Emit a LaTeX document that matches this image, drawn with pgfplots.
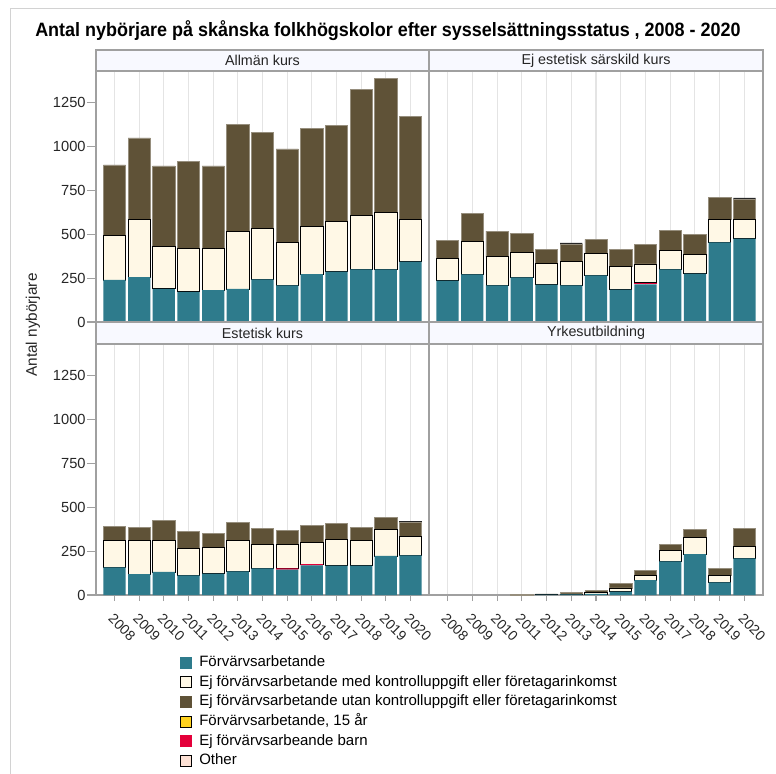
\documentclass[border=0pt]{standalone}
\usepackage{pgfplots}
\pgfplotsset{compat=1.18}
\usepackage{pgfplotstable}
\usepackage{fontspec}
\setmainfont{Liberation Sans}
\newfontfamily\titlefont[FakeStretch=0.93]{Liberation Sans}
\definecolor{tealc}{RGB}{46,123,140}
\definecolor{creamc}{RGB}{255,248,230}
\definecolor{darkc}{RGB}{95,82,55}
\definecolor{darkedge}{RGB}{150,142,125}
\definecolor{yellowc}{RGB}{255,210,31}
\definecolor{redc}{RGB}{228,0,58}
\definecolor{otherc}{RGB}{253,225,213}
\definecolor{axc}{RGB}{160,160,160}
\definecolor{stripc}{RGB}{248,249,255}
\definecolor{gridc}{RGB}{228,228,228}

% x  teal red cream dark other
\pgfplotstableread{
x t r c d o
0 239 0 255 400 0
1 256 0 329 462 0
2 189 0 241 458 0
3 172 0 248 493 0
4 182 0 237 469 0
5 188 0 325 610 0
6 242 0 290 548 0
7 208 0 243 534 0
8 273 0 269 558 0
9 286 0 288 545 0
10 299 0 309 716 0
11 299 0 322 763 0
12 343 0 242 585 0
}\allman
\pgfplotstableread{
x t r c d o
0 235 0 125 104 0
1 271 0 189 159 0
2 208 0 163 146 0
3 254 0 144 108 0
4 212 0 119 80 0
5 208 0 139 94 9
6 265 0 123 82 0
7 184 0 130 101 0
8 214 9 107 111 0
9 299 0 108 116 0
10 275 0 108 115 0
11 453 0 130 125 0
12 475 0 106 116 9
}\ejest
\pgfplotstableread{
x t r c d o
0 157 0 152 79 0
1 119 0 193 71 0
2 131 0 178 113 0
3 112 0 153 99 0
4 121 0 152 79 0
5 134 0 175 106 0
6 152 0 134 93 0
7 144 8 138 79 0
8 169 7 121 97 0
9 167 0 151 91 0
10 167 0 145 74 0
11 222 0 153 66 0
12 225 0 110 78 9
}\estet
\pgfplotstableread{
x t r c d o
3 0 0 0 2 0
4 2 0 1 3 0
5 3 0 3 7 0
6 6 0 6 13 0
7 19 0 21 24 0
8 85 0 27 30 0
9 191 0 61 38 0
10 233 0 93 47 0
11 72 0 38 43 0
12 208 0 67 106 0
}\yrkes

\pgfplotsset{
  panel/.style={
    scale only axis, width=249.75pt, height=188.25pt,
    ybar stacked, bar width=0.9,
    xmin=-0.75, xmax=12.75, ymin=0, ymax=1428,
    xtick={0,...,12}, xmajorgrids, major grid style={gridc, line width=0.8pt},
    axis line style={axc, line width=0.9pt},
    tick style={axc, line width=0.8pt},
    tick align=outside,
    ytick={0,250,...,1250},
    /pgf/number format/assume math mode=true,
    /pgf/number format/set thousands separator={},
    yticklabel style={font=\fontsize{11}{13}\selectfont, text=black!85},
    xticklabel style={font=\fontsize{10.5}{12}\selectfont, text=black!85},
    legend image code/.code={\draw[#1] (0pt,-4.1pt) rectangle (8.2pt,4.1pt); \path (12.6pt,0pt);},
  },
  toprow/.style={xticklabels={}, xtick style={draw=none}},
  botrow/.style={xtick pos=bottom, xticklabels={2008,2009,2010,2011,2012,2013,2014,2015,2016,2017,2018,2019,2020},
     xticklabel style={yshift=-7.5pt, rotate=-45, anchor=north west, inner sep=1pt}, xtick style={/pgfplots/major tick length=4.5pt}},
  leftcol/.style={ytick pos=left, ytick style={/pgfplots/major tick length=6.75pt}},
  rightcol/.style={yticklabels={}, ytick style={draw=none}},
  pt/.style={fill=tealc, draw=none},
  pr/.style={fill=redc, draw=none},
  pc/.style={fill=creamc, draw=black, line width=0.6pt},
  pd/.style={fill=darkc, draw=darkedge, line width=0.5pt},
  po/.style={fill=black!85, draw=none},
}

\begin{document}
\begin{tikzpicture}[x=0.75pt,y=-0.75pt]
\useasboundingbox (0,0) rectangle (776,774);
\draw[gray!35, line width=0.75pt] (10,780) -- (10,9) -- (780,9);

% top-left
\begin{axis}[panel, toprow, leftcol, at={(72pt,-241.5pt)}, anchor=south west]
\addplot[pt] table[x=x,y=t]{\allman};
\addplot[pr] table[x=x,y=r]{\allman};
\addplot[pc] table[x=x,y=c]{\allman};
\addplot[pd] table[x=x,y=d]{\allman};
\addplot[po] table[x=x,y=o]{\allman};
\end{axis}
% top-right
\begin{axis}[panel, toprow, rightcol, at={(321.75pt,-241.5pt)}, anchor=south west, width=250.5pt]
\addplot[pt] table[x=x,y=t]{\ejest};
\addplot[pr] table[x=x,y=r]{\ejest};
\addplot[pc] table[x=x,y=c]{\ejest};
\addplot[pd] table[x=x,y=d]{\ejest};
\addplot[po] table[x=x,y=o]{\ejest};
\end{axis}
% bottom-left
\begin{axis}[panel, botrow, leftcol, at={(72pt,-446.25pt)}, anchor=south west,
  legend style={at={(axis description cs:0.24,-0.225)}, anchor=north west, draw=none, fill=none,
    font=\fontsize{11.25}{13}\selectfont, row sep=2.1pt, legend cell align=left,
    nodes={inner sep=1pt, text height=8.2pt, text depth=2.4pt}}]
\addlegendimage{fill=tealc, draw=tealc, line width=0.4pt}
\addlegendentry{Förvärvsarbetande}
\addlegendimage{fill=creamc, draw=black, line width=0.7pt}
\addlegendentry{Ej förvärvsarbetande med kontrolluppgift eller företagarinkomst}
\addlegendimage{fill=darkc, draw=darkc, line width=0.4pt}
\addlegendentry{Ej förvärvsarbetande utan kontrolluppgift eller företagarinkomst}
\addlegendimage{fill=yellowc, draw=black, line width=0.7pt}
\addlegendentry{Förvärvsarbetande, 15 år}
\addlegendimage{fill=redc, draw=redc, line width=0.4pt}
\addlegendentry{Ej förvärvsarbeande barn}
\addlegendimage{fill=otherc, draw=black, line width=0.7pt}
\addlegendentry{Other}
\addplot[pt, forget plot] table[x=x,y=t]{\estet};
\addplot[pr, forget plot] table[x=x,y=r]{\estet};
\addplot[pc, forget plot] table[x=x,y=c]{\estet};
\addplot[pd, forget plot] table[x=x,y=d]{\estet};
\addplot[po, forget plot] table[x=x,y=o]{\estet};
\end{axis}
% bottom-right
\begin{axis}[panel, botrow, rightcol, at={(321.75pt,-446.25pt)}, anchor=south west, width=250.5pt]
\addplot[pt] table[x=x,y=t]{\yrkes};
\addplot[pr] table[x=x,y=r]{\yrkes};
\addplot[pc] table[x=x,y=c]{\yrkes};
\addplot[pd] table[x=x,y=d]{\yrkes};
\addplot[po] table[x=x,y=o]{\yrkes};
\end{axis}

% strips
\foreach \xa/\xb/\ya/\yb/\lab in {96/429/50/71/{Allmän kurs}, 429/763/50/71/{Ej estetisk särskild kurs}, 96/429/322/344/{Estetisk kurs}, 429/763/322/344/{Yrkesutbildning}}{
  \draw[axc, fill=stripc, line width=0.9pt] (\xa,\ya) rectangle (\xb,\yb);
  \node[font=\fontsize{10.75}{12}\selectfont, text=black!85] at ({(\xa+\xb)/2},{(\ya+\yb)/2}) {\lab};
}
\node[font=\fontsize{14.5}{16}\titlefont\bfseries] at (388,31) {Antal nybörjare på skånska folkhögskolor efter sysselsättningsstatus , 2008 - 2020};
\node[rotate=90, font=\fontsize{11.5}{13}\selectfont, text=black!85] at (33,325) {Antal nybörjare};
\end{tikzpicture}
\end{document}
